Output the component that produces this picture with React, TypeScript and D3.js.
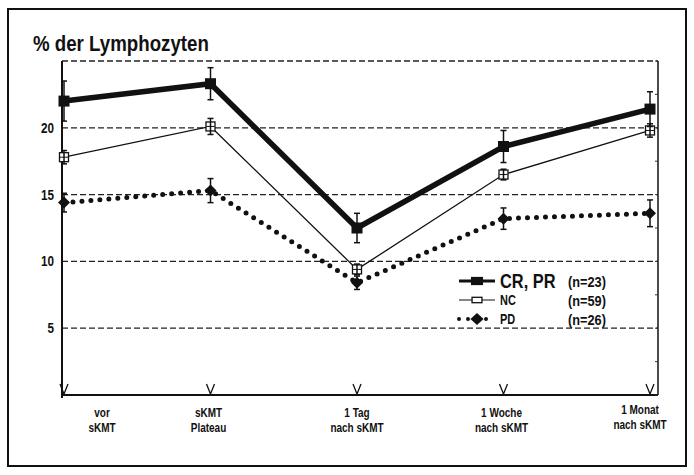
import React, { useEffect, useRef } from 'react';
import * as d3 from 'd3';

const categories = [
  ['vor', 'sKMT'],
  ['sKMT', 'Plateau'],
  ['1 Tag', 'nach sKMT'],
  ['1 Woche', 'nach sKMT'],
  ['1 Monat', 'nach sKMT'],
];
const yTicks = [5, 10, 15, 20];
const gridValues = [5, 10, 15, 20, 25];

const crValues = [22.0, 23.3, 12.5, 18.6, 21.4];
const crErrors = [1.5, 1.2, 1.1, 1.2, 1.3];
const ncValues = [17.8, 20.1, 9.4, 16.5, 19.8];
const ncErrors = [0.5, 0.6, 0.4, 0.4, 0.5];
const pdValues = [14.4, 15.3, 8.4, 13.2, 13.6];
const pdErrors = [0.7, 0.9, 0.5, 0.8, 1.0];

const legendItems = [
  { key: 'cr', label: 'CR, PR', n: '(n=23)' },
  { key: 'nc', label: 'NC', n: '(n=59)' },
  { key: 'pd', label: 'PD', n: '(n=26)' },
];

const FONT = '"Liberation Sans", Arial, sans-serif';

const App = () => {
  const ref = useRef(null);

  useEffect(() => {
    const svg = d3.select(ref.current);
    svg.selectAll('*').remove();

    const width = 694, height = 475;
    const left = 62, right = 658, top = 61, bottom = 395;

    const x = d3.scalePoint().domain(categories.map((c, i) => String(i))).range([64, 650]);
    const y = d3.scaleLinear().domain([0, 25]).range([bottom, top]);

    // narrow bold text, squeezed horizontally like the condensed original
    const label = (parent, tx, ty, txt, size, anchor = 'start', k = 0.78) =>
      parent
        .append('text')
        .attr('transform', `translate(${tx},${ty}) scale(${k},1)`)
        .attr('text-anchor', anchor)
        .style('font-family', FONT)
        .style('font-weight', 'bold')
        .style('font-size', `${size}px`)
        .attr('fill', '#111')
        .text(txt);

    svg.append('rect').attr('width', width).attr('height', height).attr('fill', '#fff');

    // outer frame
    svg
      .append('rect')
      .attr('x', 8)
      .attr('y', 9)
      .attr('width', 678)
      .attr('height', 457)
      .attr('fill', 'none')
      .attr('stroke', '#111')
      .attr('stroke-width', 2);

    label(svg, 33, 51, '% der Lymphozyten', 22, 'start', 0.85);

    // grid
    svg
      .selectAll('.grid')
      .data(gridValues)
      .enter()
      .append('line')
      .attr('x1', left)
      .attr('x2', right)
      .attr('y1', (d) => y(d))
      .attr('y2', (d) => y(d))
      .attr('stroke', '#222')
      .attr('stroke-width', 1.3)
      .attr('stroke-dasharray', '6 3');

    // axes
    svg.append('line').attr('x1', left).attr('x2', left).attr('y1', top).attr('y2', bottom + 3)
      .attr('stroke', '#111').attr('stroke-width', 2);
    svg.append('line').attr('x1', right).attr('x2', right).attr('y1', top).attr('y2', bottom)
      .attr('stroke', '#111').attr('stroke-width', 1.5);
    svg.append('line').attr('x1', left).attr('x2', right).attr('y1', bottom).attr('y2', bottom)
      .attr('stroke', '#111').attr('stroke-width', 2);

    // small ticks on right axis
    svg
      .selectAll('.rtick')
      .data(d3.range(0, 26, 2.5))
      .enter()
      .append('line')
      .attr('x1', right - 3)
      .attr('x2', right)
      .attr('y1', (d) => y(d))
      .attr('y2', (d) => y(d))
      .attr('stroke', '#333')
      .attr('stroke-width', 1);

    // y tick labels
    yTicks.forEach((d) => label(svg, left - 8, y(d) + 5, String(d), 15, 'end'));

    // V marks on x axis
    svg
      .selectAll('.vmark')
      .data(categories)
      .enter()
      .append('path')
      .attr('d', (d, i) => {
        const cx = x(String(i));
        return `M${cx - 4},${bottom - 11} L${cx},${bottom - 1} L${cx + 4},${bottom - 11}`;
      })
      .attr('fill', 'none')
      .attr('stroke', '#111')
      .attr('stroke-width', 1.3);

    // x labels
    const labelShift = [38, -2, 0, -2, -10];
    categories.forEach((c, i) => {
      const cx = x(String(i)) + labelShift[i];
      const dy = i === 4 ? -3 : 0;
      label(svg, cx, 417 + dy, c[0], 12.5, 'middle', 0.8);
      label(svg, cx, 432 + dy, c[1], 12.5, 'middle', 0.8);
    });

    const series = [
      { key: 'pd', values: pdValues, errors: pdErrors },
      { key: 'nc', values: ncValues, errors: ncErrors },
      { key: 'cr', values: crValues, errors: crErrors },
    ];

    const line = d3
      .line()
      .x((d, i) => x(String(i)))
      .y((d) => y(d));

    const drawMarker = (g, key, cx, cy, sx = 1, sy = 1) => {
      if (key === 'cr') {
        const w = 11 * sx, h = 11 * sy;
        g.append('rect').attr('x', cx - w / 2).attr('y', cy - h / 2).attr('width', w).attr('height', h).attr('fill', '#111');
      } else if (key === 'nc') {
        const w = 9 * sx, h = 9 * sy;
        g.append('rect').attr('x', cx - w / 2).attr('y', cy - h / 2).attr('width', w).attr('height', h)
          .attr('fill', '#fff').attr('stroke', '#111').attr('stroke-width', 1.3);
      } else {
        const w = 6 * sx, h = 6 * sy;
        g.append('path').attr('d', `M${cx},${cy - h} L${cx + w},${cy} L${cx},${cy + h} L${cx - w},${cy} Z`).attr('fill', '#111');
      }
    };

    series.forEach((s) => {
      const g = svg.append('g');
      const path = g.append('path').datum(s.values).attr('d', line).attr('fill', 'none').attr('stroke', '#111');
      if (s.key === 'cr') path.attr('stroke-width', 5.5);
      else if (s.key === 'nc') path.attr('stroke-width', 1.3);
      else path.attr('stroke-width', 5).attr('stroke-linecap', 'round').attr('stroke-dasharray', '0 9');

      s.values.forEach((v, i) => {
        const cx = x(String(i));
        const e = s.errors[i];
        drawMarker(g, s.key, cx, y(v));
        g.append('line').attr('x1', cx).attr('x2', cx).attr('y1', y(v + e)).attr('y2', y(v - e)).attr('stroke', '#111').attr('stroke-width', 1.5);
        [v + e, v - e].forEach((w) => {
          g.append('line').attr('x1', cx - 3).attr('x2', cx + 3).attr('y1', y(w)).attr('y2', y(w)).attr('stroke', '#111').attr('stroke-width', 1.5);
        });
        if (s.key === 'nc') {
          g.append('line').attr('x1', cx - 4).attr('x2', cx + 4).attr('y1', y(v)).attr('y2', y(v)).attr('stroke', '#111').attr('stroke-width', 1);
        }
      });
    });

    // legend
    const lg = svg.append('g');
    legendItems.forEach((item, i) => {
      const ly = 281 + i * 19;
      const l = lg.append('line').attr('x1', 459).attr('x2', 495).attr('y1', ly).attr('y2', ly).attr('stroke', '#111');
      if (item.key === 'cr') l.attr('stroke-width', 3);
      else if (item.key === 'nc') l.attr('stroke-width', 1.2);
      else l.attr('stroke-width', 4).attr('stroke-linecap', 'round').attr('stroke-dasharray', '0 9');
      if (item.key === 'cr') drawMarker(lg, 'cr', 477, ly, 1.1, 0.75);
      else if (item.key === 'nc') drawMarker(lg, 'nc', 477, ly, 1.1, 0.6);
      else drawMarker(lg, 'pd', 477, ly, 1.1, 1);
      label(lg, 500, ly + (item.key === 'cr' ? 7 : 5), item.label, item.key === 'cr' ? 21 : 14);
      label(lg, 568, ly + 6, item.n, 15, 'start', 0.85);
    });
  }, []);

  return (
    <svg
      ref={ref}
      width={694}
      height={475}
      style={{ position: 'absolute', left: 0, top: 0, display: 'block' }}
    />
  );
};

export default App;
